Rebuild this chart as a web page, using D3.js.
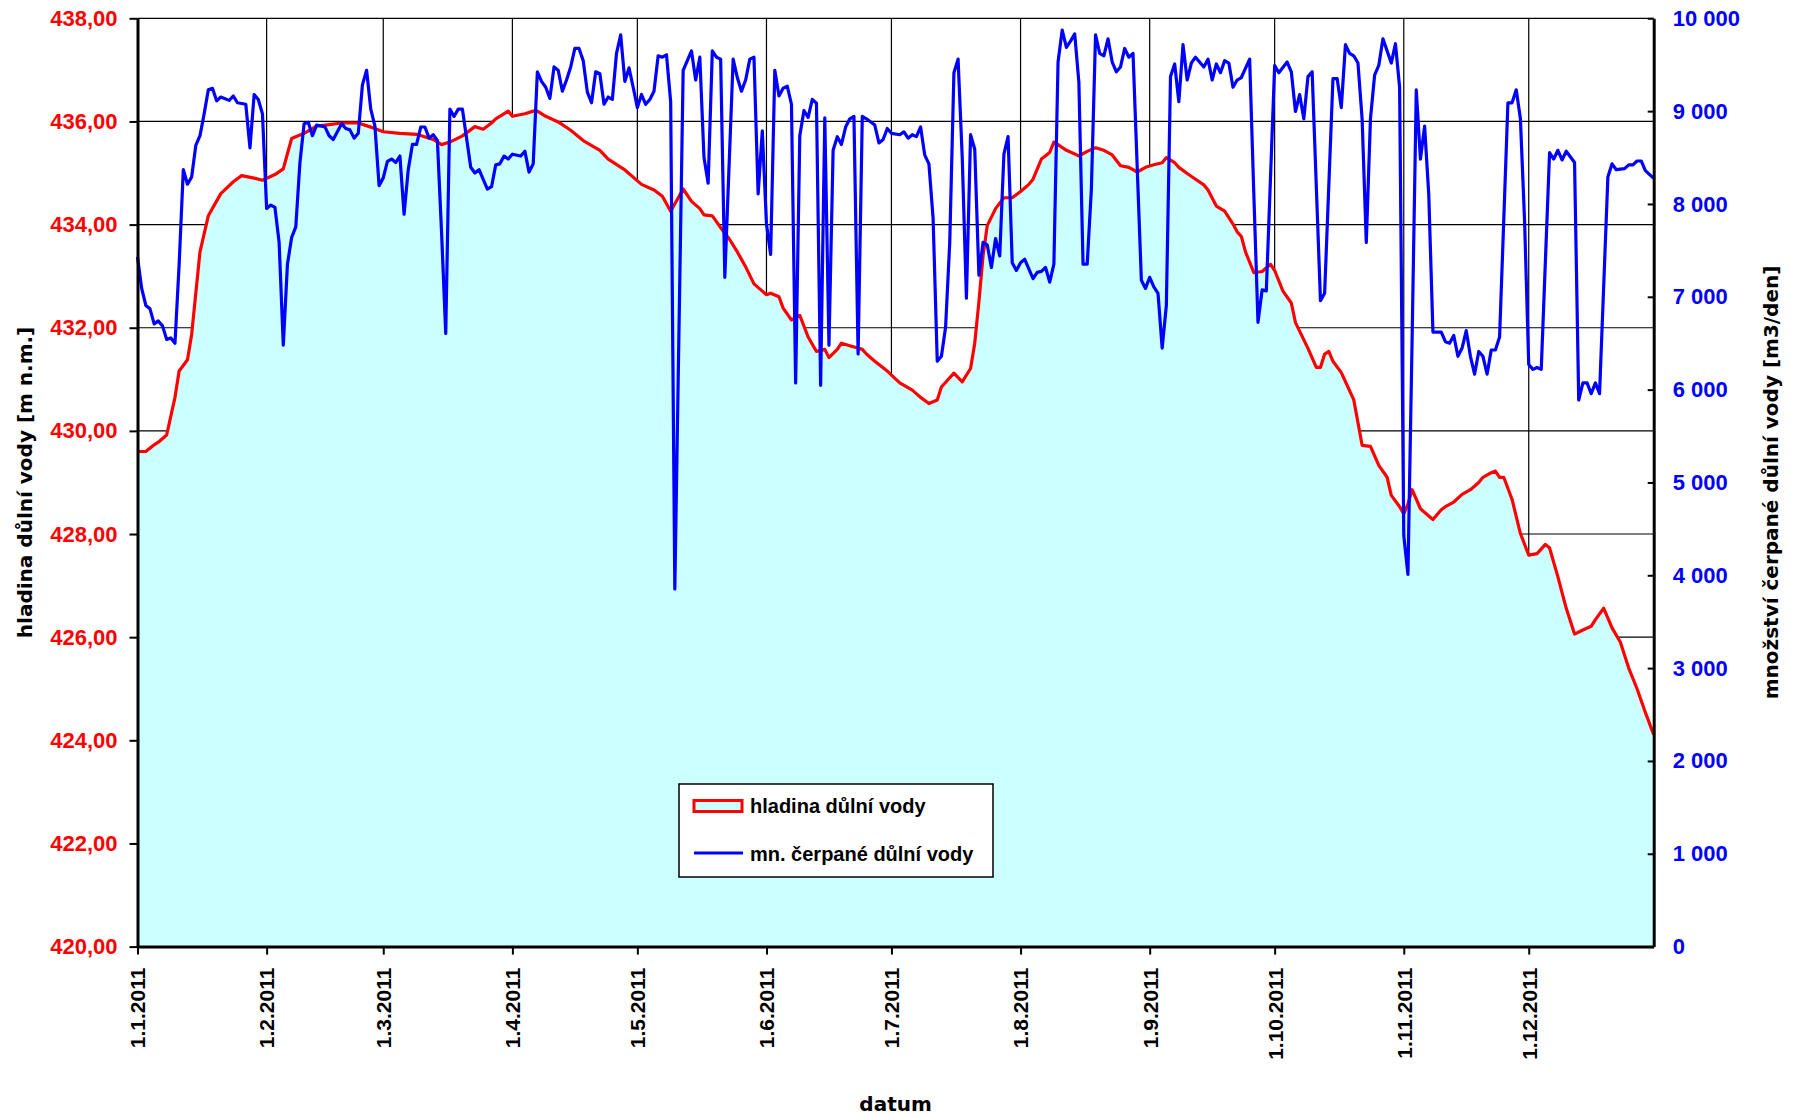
<!DOCTYPE html>
<html>
  <head>
    <meta charset="utf-8">
    <title>hladina důlní vody 2011</title>
    <script src="https://cdnjs.cloudflare.com/ajax/libs/d3/7.8.5/d3.min.js"></script>
    <style>
      body { margin: 0; background: #fff; }
      svg text { font-family: "Liberation Sans", Arial, sans-serif; font-weight: bold; }
      .axis text { font-size: 22px; }
      .dateAxis text { font-size: 21px; fill: #000; }
      .axis .domain { stroke: #000; stroke-width: 3; }
      .axis line { stroke: #000; stroke-width: 2; }
      .levelAxis text { fill: #ff0000; }
      .pumpAxis text { fill: #0000ff; }
      .grid line { stroke: #000; stroke-width: 1.2; }
      .title { font-family: "DejaVu Sans", sans-serif; font-size: 20px; fill: #000; }
      .legendText { font-size: 20px; fill: #000; }
    </style>
  </head>

  <body>
    <svg id="chart" width="1797" height="1118">
      <g id="gridGroup" class="grid"></g>
      <g id="chartGroup"></g>
      <g id="axisGroup">
        <g id="levelAxisGroup" class="axis levelAxis"></g>
        <g id="pumpAxisGroup" class="axis pumpAxis"></g>
        <g id="dateAxisGroup" class="axis dateAxis"></g>
      </g>
      <g id="legend"></g>
    </svg>

    <script>
      // data: day of year 2011 (0 = 1.1.) and value
      levelDay = [0, 2, 4, 5, 7, 9, 10, 12, 13, 15, 17, 20, 23, 25, 28, 30, 33, 35, 37, 40, 43, 46, 49, 53, 56, 59,
        63, 67, 71, 73, 75, 78, 81, 83, 85, 86, 89, 90, 93, 95, 96, 98, 101, 104, 107, 111, 113, 117, 121, 124, 126,
        128, 131, 133, 135, 136, 138, 140, 142, 144, 146, 148, 150, 151, 152, 154, 155, 157, 159, 161, 163, 165, 166,
        168, 169, 171, 174, 175, 177, 180, 183, 186, 188, 190, 192, 193, 196, 198, 200, 201, 202, 203, 204, 206, 208,
        210, 212, 214, 215, 217, 219, 220, 221, 223, 225, 226, 228, 230, 232, 234, 236, 238, 240, 242, 244, 246, 247,
        249, 250, 252, 254, 256, 257, 259, 261, 263, 264, 265, 266, 268, 270, 272, 273, 275, 277, 278, 281, 283, 284,
        285, 286, 287, 289, 292, 294, 296, 298, 300, 301, 303, 304, 305, 306, 308, 310, 311, 313, 314, 316, 318, 320,
        322, 323, 325, 326, 327, 328, 330, 332, 334, 336, 338, 339, 341, 343, 345, 347, 349, 350, 352, 354, 356, 358,
        360, 362, 364];
      levelValue = [429.60, 429.60, 429.73, 429.78, 429.92, 430.65, 431.16, 431.38, 431.87, 433.47, 434.17, 434.60,
        434.83, 434.95, 434.90, 434.86, 434.97, 435.08, 435.67, 435.77, 435.91, 435.94, 435.97, 435.97, 435.89, 435.80,
        435.77, 435.75, 435.65, 435.55, 435.60, 435.72, 435.90, 435.85, 435.97, 436.05, 436.20, 436.10, 436.15, 436.20,
        436.20, 436.10, 435.99, 435.83, 435.63, 435.44, 435.27, 435.06, 434.78, 434.67, 434.55,
        434.26, 434.69, 434.45, 434.31, 434.19, 434.17, 433.94, 433.73, 433.47, 433.18, 432.85, 432.71, 432.64, 432.67,
        432.60, 432.38, 432.15, 432.24, 431.82, 431.54, 431.58, 431.42,
        431.58, 431.70, 431.65, 431.58, 431.49, 431.35, 431.16, 430.93, 430.79, 430.65, 430.53, 430.60, 430.85, 431.12,
        430.95, 431.21, 431.70, 432.50, 433.40, 433.98, 434.31, 434.52,
        434.52, 434.64, 434.78, 434.88, 435.27, 435.40, 435.60, 435.55, 435.44, 435.37, 435.33, 435.42, 435.49, 435.44,
        435.35, 435.14, 435.11, 435.02, 435.11, 435.16, 435.20, 435.30,
        435.20, 435.11, 434.99, 434.88, 434.77, 434.67, 434.36, 434.26, 434.01, 433.86, 433.77, 433.47, 433.07, 433.09,
        433.23, 433.11, 432.71, 432.48, 432.10, 431.60, 431.23, 431.23,
        431.49, 431.54, 431.35, 431.13, 430.60, 429.72, 429.70, 429.33, 429.10, 428.75, 428.53, 428.39, 428.58, 428.86,
        428.49, 428.35, 428.28, 428.47, 428.53, 428.62, 428.77, 428.86,
        429.00, 429.10, 429.19, 429.22, 429.10, 429.10, 428.67, 428.01, 427.59, 427.62, 427.80, 427.73, 427.17, 426.56,
        426.06, 426.14, 426.21, 426.34, 426.56, 426.18, 425.90, 425.40,
        425.00, 424.54, 424.11];

      pumpDay = [0, 1, 2, 3, 4, 5, 6, 7, 8, 9, 10, 11, 12, 13, 14, 15, 16, 17, 18, 19, 20, 22, 23, 24, 26, 27, 28, 29,
        30, 31, 32, 33, 34, 35, 36, 37, 38, 39, 40, 41, 42, 43, 45, 46, 47, 49, 50, 51, 52, 53, 54, 55, 56, 57, 58, 59,
        60, 61, 62, 63, 64, 65, 66, 67, 68, 69, 70, 71, 72, 73, 74, 75, 76, 77, 78, 80, 81, 82, 84, 85, 86, 87, 88, 89,
        90, 92, 93, 94, 95, 96, 97, 98, 99, 100, 101, 102, 103, 104, 105, 106, 107, 108, 109, 110, 111, 112, 113, 114,
        115, 116, 117, 118, 119, 120, 121, 122, 123, 124, 125, 126, 127, 128, 129, 131, 133, 134, 135, 136, 137, 138,
        139, 140, 141, 143, 144, 145, 146, 147, 148, 149, 150, 151, 152, 153, 154, 155, 156, 157, 158, 159, 160, 161,
        162, 163, 164, 165, 166, 167, 168, 169, 170, 171, 172, 173, 174, 175, 177, 178, 179, 180, 181, 183, 184, 185,
        186, 187, 188, 189, 190, 191, 192, 193, 194, 195, 196, 197, 198, 199, 200, 201, 202, 203, 204, 205, 206, 207,
        208, 209, 210, 211, 212, 213, 215, 216, 217, 218, 219, 220, 221, 222, 223, 224, 225, 226, 227, 228, 229, 230,
        231, 232, 233, 234, 235, 236, 237, 238, 239, 241, 242, 243, 244, 245, 246, 247, 248, 249, 250, 251, 252, 253,
        254, 256, 257, 258, 259, 260, 261, 262, 263, 264, 265, 267, 268, 269, 270, 271, 273, 274, 276, 277, 278, 279,
        280, 281, 282, 284, 285, 287, 288, 289, 290, 291, 292, 293, 294, 295, 296, 297, 298, 299, 301, 302, 303, 304,
        305, 306, 307, 308, 309, 310, 311, 313, 314, 315, 316, 317, 318, 319, 320, 321, 322, 323, 324, 325, 326, 327,
        328, 329, 330, 331, 332, 333, 334, 335, 336, 337, 339, 340, 341, 342, 343, 345, 346, 347, 348, 349, 350, 351,
        353, 354, 355, 357, 358, 359, 360, 361, 362, 364];
      pumpValue = [7430, 7090, 6907, 6870, 6708, 6740, 6687, 6541, 6557, 6500, 7351, 8370, 8213, 8291, 8631, 8735, 8970,
        9230, 9246, 9111, 9152, 9116, 9163, 9090, 9074, 8604, 9178, 9126,
        8970, 7952, 7988, 7962, 7586, 6479, 7351, 7638, 7753, 8447, 8865, 8880, 8735, 8850, 8830, 8735, 8694, 8865,
        8813, 8798, 8709, 8761, 9283, 9440, 9022, 8839, 8197, 8281,
        8458, 8484, 8447, 8516, 7889, 8369, 8641, 8641, 8829, 8829, 8709, 8745, 8683, 7691, 6605, 9022, 8943, 9022,
        9022, 8395, 8333, 8369, 8160, 8186, 8421, 8432, 8516, 8484,
        8536, 8516, 8568, 8343, 8432, 9424, 9320, 9257, 9137, 9476, 9440, 9215, 9335, 9476, 9675, 9675, 9544, 9205,
        9090, 9424, 9403, 9074, 9152, 9126,
        9622, 9821, 9320, 9466, 9257, 9038, 9179, 9074, 9126, 9215, 9596, 9581, 9607, 9101, 3853, 9440, 9649, 9335,
        9581, 8500, 8223, 9649,
        9581, 9560, 7210, 9560, 9362, 9215, 9335, 9560, 9581, 8108, 8787, 7785, 7456, 9440, 9163, 9247, 9268, 9074,
        6072, 8735, 9007, 8933,
        9126, 9085, 6046, 8928, 6479, 8578, 8724, 8641, 8829, 8917, 8943, 6384, 8943, 8917, 8850, 8657, 8694, 8813,
        8761, 8746, 8777, 8709,
        8746, 8725, 8829, 8526, 8432, 7847, 6307, 6359, 6672, 7586, 9414, 9560, 8500, 6985, 8746, 8589, 7232, 7586,
        7560, 7315, 7628, 7440,
        8536, 8725, 7367, 7284, 7367, 7404, 7195, 7263, 7274, 7315, 7158, 7351, 9529, 9874, 9686, 9754, 9832, 9310,
        7351, 7351, 8160, 9821,
        9622, 9596, 9779, 9529, 9424, 9476, 9675, 9581, 9622, 7179, 7090, 7210, 7106, 7038, 6448, 6907, 9372, 9508,
        9101, 9717, 9335, 9518,
        9581, 9476, 9560, 9335, 9508, 9414, 9544, 9518, 9257, 9335, 9362, 9560, 8108, 6725, 7075, 7064, 9492, 9414,
        9529, 9424, 8996, 9179,
        8917, 9372, 9424, 6959, 7038, 9351, 9351, 9038, 9717, 9622, 9596, 9518, 8917, 7586, 8917, 9388, 9492, 9779,
        9518, 9726, 9257, 4427,
        4009, 6541, 9230, 8484, 8839, 8100, 6620, 6620, 6516, 6500, 6583, 6359, 6448, 6635, 6359, 6166, 6411, 6359,
        6166, 6427, 6427, 6567,
        7821, 9090, 9090, 9230, 8917, 7821, 6270, 6218, 6239, 6218, 8552, 8484, 8578, 8474, 8568, 8447, 5888, 6072,
        6072, 5956, 6072, 5956,
        8291, 8432, 8369, 8380, 8421, 8421, 8463, 8463, 8359, 8275];

      // axis ticks
      monthLabels = ["1.1.2011", "1.2.2011", "1.3.2011", "1.4.2011", "1.5.2011", "1.6.2011",
        "1.7.2011", "1.8.2011", "1.9.2011", "1.10.2011", "1.11.2011", "1.12.2011"];
      levelTicks = [420, 422, 424, 426, 428, 430, 432, 434, 436, 438];
      pumpTicks = [0, 1000, 2000, 3000, 4000, 5000, 6000, 7000, 8000, 9000, 10000];

      // page elements
      chart = d3.select("#chart");
      gridGroup = d3.select("#gridGroup");
      chartGroup = d3.select("#chartGroup");
      legend = d3.select("#legend");

      margin = { top: 18.3, right: 143.3, bottom: 171.4, left: 137.5 };
      width = 1797;
      height = 1118;

      startDate = new Date(2011, 0, 1);
      parseLabel = d3.timeParse("%-d.%-m.%Y");
      toDate = function(day) { return d3.timeDay.offset(startDate, day); };

      levelData = levelDay.map(function(d, i) {
        return { date: toDate(d), value: levelValue[i] };
      });
      pumpData = pumpDay.map(function(d, i) {
        return { date: toDate(d), value: pumpValue[i] };
      });
      monthDates = monthLabels.map(parseLabel);

      // scales
      x = d3.scaleTime()
        .domain([startDate, new Date(2011, 11, 31)])
        .range([margin.left, width - margin.right]);
      yLevel = d3.scaleLinear()
        .domain([420, 438])
        .range([height - margin.bottom, margin.top]);
      yPump = d3.scaleLinear()
        .domain([0, 10000])
        .range([height - margin.bottom, margin.top]);

      czech = d3.formatLocale({ decimal: ",", thousands: " ", grouping: [3], currency: ["", ""] });

      // gridlines
      gridGroup.selectAll(".hGrid")
          .data(levelTicks.slice(1))
        .enter().append("line")
          .attr("x1", margin.left)
          .attr("x2", width - margin.right)
          .attr("y1", function(d) { return yLevel(d); })
          .attr("y2", function(d) { return yLevel(d); });
      gridGroup.selectAll(".vGrid")
          .data(monthDates.slice(1))
        .enter().append("line")
          .attr("x1", function(d) { return x(d); })
          .attr("x2", function(d) { return x(d); })
          .attr("y1", margin.top)
          .attr("y2", height - margin.bottom);

      // water level area and line
      area = d3.area()
        .x(function(d) { return x(d.date); })
        .y0(yLevel(420))
        .y1(function(d) { return yLevel(d.value); });
      levelLine = d3.line()
        .x(function(d) { return x(d.date); })
        .y(function(d) { return yLevel(d.value); });
      pumpLine = d3.line()
        .x(function(d) { return x(d.date); })
        .y(function(d) { return yPump(d.value); });

      chartGroup.append("path")
        .datum(levelData)
        .attr("d", area)
        .attr("fill", "#ccffff");
      chartGroup.append("path")
        .datum(levelData)
        .attr("d", levelLine)
        .attr("fill", "none")
        .attr("stroke", "#ff0000")
        .attr("stroke-width", 3.2)
        .attr("stroke-linejoin", "round");
      chartGroup.append("path")
        .datum(pumpData)
        .attr("d", pumpLine)
        .attr("fill", "none")
        .attr("stroke", "#0000ff")
        .attr("stroke-width", 3.2)
        .attr("stroke-linejoin", "round");

      // axes
      levelAxis = d3.axisLeft(yLevel)
        .tickValues(levelTicks)
        .tickSizeInner(8)
        .tickSizeOuter(0)
        .tickPadding(12)
        .tickFormat(czech.format(".2f"));
      pumpAxis = d3.axisRight(yPump)
        .tickValues(pumpTicks)
        .tickSizeInner(-6)
        .tickSizeOuter(0)
        .tickPadding(19)
        .tickFormat(czech.format(",d"));
      dateAxis = d3.axisBottom(x)
        .tickValues(monthDates)
        .tickSizeInner(8)
        .tickSizeOuter(0)
        .tickFormat(function(d, i) { return monthLabels[i]; });

      d3.select("#levelAxisGroup")
        .attr("transform", "translate(" + margin.left + ", 0)")
        .call(levelAxis)
        .attr("font-family", null)
        .attr("font-size", null);
      d3.select("#pumpAxisGroup")
        .attr("transform", "translate(" + (width - margin.right) + ", 0)")
        .call(pumpAxis)
        .attr("font-family", null)
        .attr("font-size", null);
      d3.select("#dateAxisGroup")
        .attr("transform", "translate(0, " + (height - margin.bottom) + ")")
        .call(dateAxis)
        .attr("font-family", null)
        .attr("font-size", null)
        .selectAll("text")
          .attr("transform", "rotate(-90)")
          .attr("x", -21)
          .attr("y", 0)
          .attr("dy", "0.35em")
          .style("text-anchor", "end");

      // axis titles
      chart.append("text")
        .attr("class", "title")
        .attr("transform", "translate(25, " + (margin.top + height - margin.bottom) / 2 + ") rotate(-90)")
        .attr("text-anchor", "middle")
        .attr("dy", "0.35em")
        .text("hladina důlní vody [m n.m.]");
      chart.append("text")
        .attr("class", "title")
        .attr("transform", "translate(1771, " + (margin.top + height - margin.bottom) / 2 + ") rotate(-90)")
        .attr("text-anchor", "middle")
        .attr("dy", "0.35em")
        .text("množství čerpané důlní vody [m3/den]");
      chart.append("text")
        .attr("class", "title")
        .attr("x", (margin.left + width - margin.right) / 2)
        .attr("y", 1104)
        .attr("text-anchor", "middle")
        .attr("dy", "0.35em")
        .text("datum");

      // legend
      legend.attr("transform", "translate(679, 784)");
      legend.append("rect")
        .attr("width", 314)
        .attr("height", 93)
        .attr("fill", "#fff")
        .attr("stroke", "#000")
        .attr("stroke-width", 1.5);
      legend.append("rect")
        .attr("x", 15)
        .attr("y", 16.5)
        .attr("width", 48)
        .attr("height", 11)
        .attr("fill", "#ccffff")
        .attr("stroke", "#ff0000")
        .attr("stroke-width", 3);
      legend.append("line")
        .attr("x1", 15)
        .attr("x2", 64)
        .attr("y1", 69)
        .attr("y2", 69)
        .attr("stroke", "#0000ff")
        .attr("stroke-width", 3);
      legend.append("text")
        .attr("class", "legendText")
        .attr("x", 71)
        .attr("y", 22)
        .attr("dy", "0.35em")
        .text("hladina důlní vody");
      legend.append("text")
        .attr("class", "legendText")
        .attr("x", 71)
        .attr("y", 70)
        .attr("dy", "0.35em")
        .text("mn. čerpané důlní vody");
    </script>
  </body>
</html>
